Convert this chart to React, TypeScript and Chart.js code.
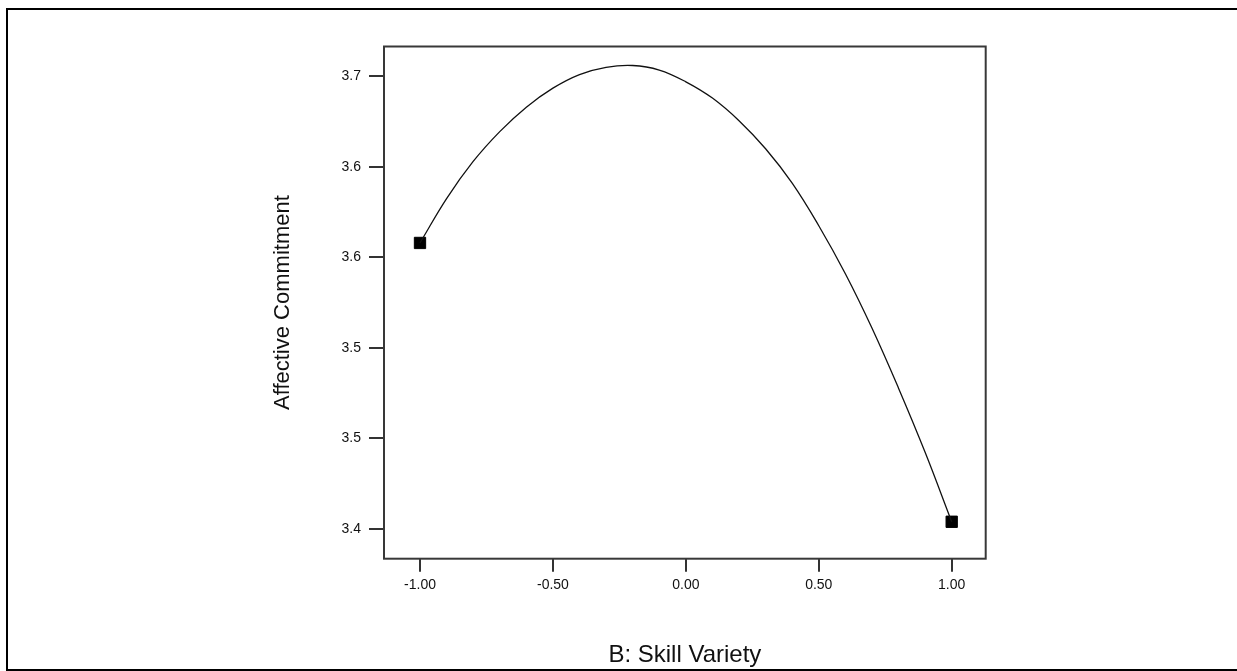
import React, { useEffect, useRef } from "react";
import { Chart, registerables } from "chart.js";

Chart.register(...registerables);

// Response curve
const curveX = [-1, -0.9, -0.8, -0.7, -0.6, -0.5, -0.4, -0.3, -0.2, -0.1, 0, 0.1, 0.2, 0.3, 0.4, 0.5, 0.6, 0.7, 0.8, 0.9, 1.0];
const curveY = [3.558, 3.5825, 3.603, 3.6195, 3.633, 3.6435, 3.651, 3.655, 3.656, 3.6535, 3.647, 3.638, 3.6255, 3.61, 3.591, 3.5675, 3.541, 3.511, 3.4778, 3.4424, 3.404];

// Design points (black squares)
const designX = [-1, 1];
const designY = [3.558, 3.404];

const xTickValues = [-1, -0.5, 0, 0.5, 1];
const xTickLabels = ["-1.00", "-0.50", "0.00", "0.50", "1.00"];
const yTickValues = [3.4, 3.45, 3.5, 3.55, 3.6, 3.65];
const yTickLabels = ["3.4", "3.5", "3.5", "3.6", "3.6", "3.7"];

const xTitle = "B: Skill Variety";
const yTitle = "Affective Commitment";

const FONT = "'Liberation Sans', Arial, sans-serif";

const framePlugin = {
  id: "frame",
  beforeDraw(chart: any) {
    const ctx = chart.ctx;
    ctx.save();
    ctx.fillStyle = "#ffffff";
    ctx.fillRect(0, 0, chart.width, chart.height);
    ctx.strokeStyle = "#000000";
    ctx.lineWidth = 2;
    ctx.strokeRect(7, 9, 1240, 661);
    ctx.restore();
  },
  afterDraw(chart: any) {
    const { ctx, chartArea } = chart;
    ctx.save();
    ctx.strokeStyle = "#383838";
    ctx.lineWidth = 2;
    ctx.strokeRect(chartArea.left, chartArea.top, chartArea.right - chartArea.left, chartArea.bottom - chartArea.top);
    ctx.restore();
  },
};

export default function App() {
  const ref = useRef<HTMLCanvasElement | null>(null);

  useEffect(() => {
    if (!ref.current) return;
    Chart.defaults.font.family = FONT;
    const chart = new Chart(ref.current, {
      type: "scatter",
      data: {
        datasets: [
          {
            type: "line",
            data: curveX.map((x, i) => ({ x, y: curveY[i] })),
            borderColor: "#111111",
            borderWidth: 1.3,
            pointRadius: 0,
            tension: 0.4,
            fill: false,
          } as any,
          {
            type: "scatter",
            data: designX.map((x, i) => ({ x, y: designY[i] })),
            pointStyle: "rect",
            pointRadius: 8,
            backgroundColor: "#000000",
            borderColor: "#000000",
            borderWidth: 1,
          } as any,
        ],
      },
      options: {
        responsive: false,
        animation: false,
        layout: { padding: { left: 0, top: 46.5, right: 251.3, bottom: 0 } },
        plugins: { legend: { display: false }, tooltip: { enabled: false } },
        scales: {
          x: {
            type: "linear",
            min: -1.1354,
            max: 1.1279,
            afterBuildTicks: (s: any) => {
              s.ticks = xTickValues.map((v) => ({ value: v }));
            },
            afterFit: (s: any) => {
              s.height = 112.3;
            },
            grid: { drawOnChartArea: false, drawTicks: true, tickLength: 13, color: "#333333", lineWidth: 2 },
            border: { display: false },
            ticks: {
              callback: (_v: any, i: number) => xTickLabels[i],
              font: { size: 14, family: FONT },
              color: "#111111",
              padding: 5,
              maxRotation: 0,
              autoSkip: false,
            },
            title: {
              display: true,
              text: xTitle,
              font: { size: 24, family: FONT },
              color: "#111111",
              padding: { top: 0, bottom: 1 },
            },
          },
          y: {
            type: "linear",
            min: 3.3836,
            max: 3.6665,
            afterBuildTicks: (s: any) => {
              s.ticks = yTickValues.map((v) => ({ value: v }));
            },
            afterFit: (s: any) => {
              s.width = 384;
            },
            grid: { drawOnChartArea: false, drawTicks: true, tickLength: 15, color: "#333333", lineWidth: 2 },
            border: { display: false },
            ticks: {
              callback: (_v: any, i: number) => yTickLabels[i],
              font: { size: 14, family: FONT },
              color: "#111111",
              padding: 8,
              autoSkip: false,
            },
            title: {
              display: true,
              text: yTitle,
              font: { size: 22, family: FONT },
              color: "#111111",
              padding: { top: 270, bottom: 0 },
            },
          },
        },
      },
      plugins: [framePlugin],
    });
    return () => chart.destroy();
  }, []);

  return (
    <div style={{ position: "fixed", left: 0, top: 0, width: 1237, height: 671, background: "#fff" }}>
      <canvas ref={ref} width={1237} height={671} style={{ display: "block" }} />
    </div>
  );
}
